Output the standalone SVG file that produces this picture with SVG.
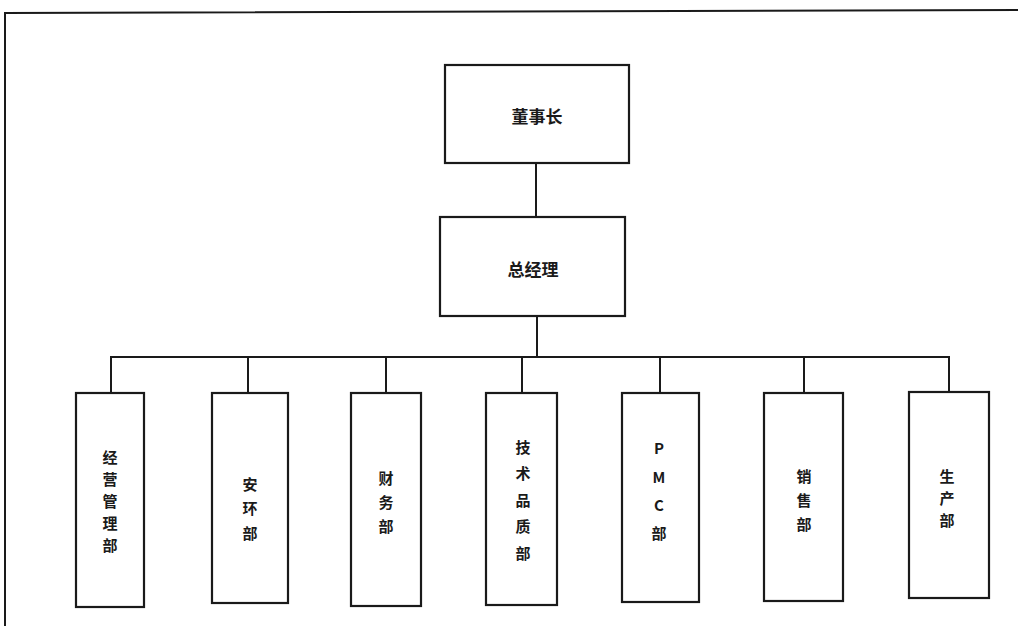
<svg xmlns="http://www.w3.org/2000/svg" width="1018" height="626" viewBox="0 0 1018 626">
<style>
.box{fill:#fff;stroke:#1a1a1a;stroke-width:2.2}
.ln{fill:none;stroke:#1a1a1a;stroke-width:2}
.t{font-family:"Noto Sans CJK SC","Noto Sans",sans-serif;font-weight:bold;font-size:17px;fill:#1a1a1a;text-anchor:middle;dominant-baseline:central}
.v{font-size:15px}
</style>
<rect width="1018" height="626" fill="#fff"/>
<path class="ln" d="M5,626 L5,13 L1018,10"/>
<g id="connectors">
<path class="ln" d="M536,163 V217"/>
<path class="ln" d="M537,316 V357"/>
<path class="ln" d="M111,393 V357 H949 V392"/>
<path class="ln" d="M248,357 V393"/>
<path class="ln" d="M386,357 V393"/>
<path class="ln" d="M522,357 V393"/>
<path class="ln" d="M660,357 V393"/>
<path class="ln" d="M804,357 V393"/>
</g>
<g id="n-chairman">
<rect class="box" x="445" y="65" width="184" height="98"/>
<text class="t" x="537" y="115">董事长</text>
</g>
<g id="n-gm">
<rect class="box" x="440" y="217" width="185" height="99"/>
<text class="t" x="533" y="268">总经理</text>
</g>
<g id="n-jygl">
<rect class="box" x="76" y="393" width="68" height="214"/>
<text class="t v" x="110"><tspan x="110" y="456">经</tspan><tspan x="110" y="478">营</tspan><tspan x="110" y="500">管</tspan><tspan x="110" y="522">理</tspan><tspan x="110" y="544">部</tspan></text>
</g>
<g id="n-ahb">
<rect class="box" x="212" y="393" width="76" height="210"/>
<text class="t v" x="250"><tspan x="250" y="483">安</tspan><tspan x="250" y="507">环</tspan><tspan x="250" y="532">部</tspan></text>
</g>
<g id="n-cwb">
<rect class="box" x="351" y="393" width="70" height="213"/>
<text class="t v" x="386"><tspan x="386" y="477">财</tspan><tspan x="386" y="501">务</tspan><tspan x="386" y="525">部</tspan></text>
</g>
<g id="n-jspz">
<rect class="box" x="486" y="393" width="71" height="212"/>
<text class="t v" x="523"><tspan x="523" y="446">技</tspan><tspan x="523" y="472">术</tspan><tspan x="523" y="499">品</tspan><tspan x="523" y="525">质</tspan><tspan x="523" y="552">部</tspan></text>
</g>
<g id="n-pmc">
<rect class="box" x="622" y="393" width="77" height="209"/>
<text class="t v" x="659"><tspan x="659" y="447">P</tspan><tspan x="659" y="476">M</tspan><tspan x="659" y="504">C</tspan><tspan x="659" y="532">部</tspan></text>
</g>
<g id="n-xsb">
<rect class="box" x="764" y="393" width="79" height="208"/>
<text class="t v" x="804"><tspan x="804" y="475">销</tspan><tspan x="804" y="499">售</tspan><tspan x="804" y="523">部</tspan></text>
</g>
<g id="n-scb">
<rect class="box" x="909" y="392" width="80" height="206"/>
<text class="t v" x="947"><tspan x="947" y="475">生</tspan><tspan x="947" y="497">产</tspan><tspan x="947" y="519">部</tspan></text>
</g>
</svg>
